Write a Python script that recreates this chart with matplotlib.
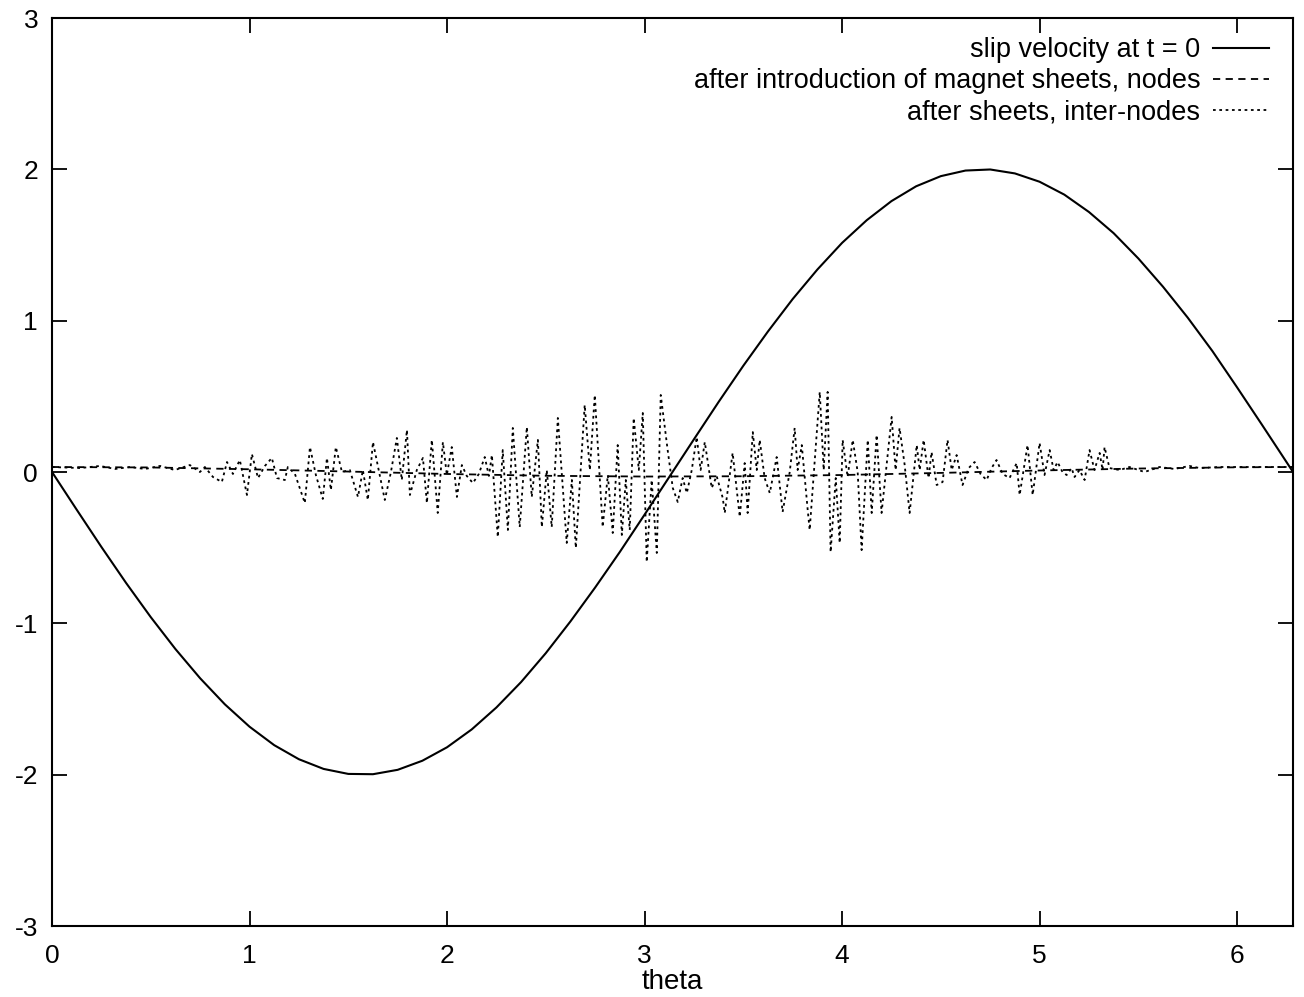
import matplotlib
matplotlib.use("Agg")
import matplotlib.pyplot as plt

plt.rcParams["font.family"] = ["Liberation Sans", "DejaVu Sans"]

# slip velocity at t = 0
theta_slip = [0.0, 0.125, 0.25, 0.375, 0.5, 0.625, 0.75, 0.875, 1.0, 1.125, 1.25, 1.375,
              1.5, 1.625, 1.75, 1.875, 2.0, 2.125, 2.25, 2.375, 2.5, 2.625, 2.75, 2.875,
              3.0, 3.125, 3.25, 3.375, 3.5, 3.625, 3.75, 3.875, 4.0, 4.125, 4.25, 4.375,
              4.5, 4.625, 4.75, 4.875, 5.0, 5.125, 5.25, 5.375, 5.5, 5.625, 5.75, 5.875,
              6.0, 6.125, 6.25, 6.283]
slip = [0.0, -0.249, -0.495, -0.733, -0.959, -1.170, -1.363, -1.535, -1.683, -1.805,
        -1.898, -1.962, -1.995, -1.997, -1.968, -1.908, -1.819, -1.701, -1.556, -1.388,
        -1.197, -0.987, -0.763, -0.528, -0.282, -0.033, 0.216, 0.463, 0.702, 0.929,
        1.143, 1.338, 1.514, 1.664, 1.790, 1.888, 1.955, 1.992, 1.999, 1.973, 1.918,
        1.833, 1.718, 1.578, 1.411, 1.224, 1.020, 0.799, 0.559, 0.314, 0.066, 0.0]

# after introduction of magnet sheets, nodes
theta_nodes = [0.0, 0.5, 1.0, 1.5, 2.0, 2.5, 3.0, 3.5, 4.0, 4.5, 5.0, 5.5, 6.0, 6.283]
nodes = [0.033, 0.030, 0.018, 0.003, -0.013, -0.025, -0.030, -0.028, -0.020, -0.006,
         0.010, 0.023, 0.031, 0.033]

# after sheets, inter-nodes
theta_inter = [0.000, 0.142, 0.243, 0.319, 0.395, 0.471, 0.547, 0.622, 0.698, 0.749,
               0.774, 0.815, 0.860, 0.886, 0.916, 0.951, 0.987, 1.012, 1.043, 1.078,
               1.113, 1.139, 1.179, 1.194, 1.230, 1.280, 1.306, 1.336, 1.371, 1.392,
               1.412, 1.437, 1.468, 1.508, 1.549, 1.574, 1.599, 1.625, 1.685, 1.716,
               1.746, 1.771, 1.797, 1.812, 1.847, 1.878, 1.898, 1.923, 1.953, 1.979,
               1.999, 2.024, 2.050, 2.075, 2.100, 2.131, 2.161, 2.191, 2.212, 2.227,
               2.257, 2.282, 2.308, 2.333, 2.368, 2.404, 2.429, 2.460, 2.480, 2.505,
               2.530, 2.561, 2.606, 2.632, 2.652, 2.697, 2.723, 2.748, 2.788, 2.814,
               2.839, 2.864, 2.885, 2.905, 2.925, 2.945, 2.971, 2.991, 3.011, 3.036,
               3.062, 3.082, 3.117, 3.143, 3.168, 3.193, 3.214, 3.239, 3.264, 3.284,
               3.305, 3.340, 3.365, 3.396, 3.406, 3.446, 3.482, 3.507, 3.522, 3.548,
               3.568, 3.583, 3.608, 3.634, 3.669, 3.699, 3.735, 3.760, 3.775, 3.796,
               3.826, 3.836, 3.887, 3.907, 3.927, 3.942, 3.968, 3.988, 4.003, 4.028,
               4.054, 4.079, 4.099, 4.130, 4.150, 4.175, 4.200, 4.251, 4.271, 4.291,
               4.317, 4.342, 4.378, 4.393, 4.413, 4.438, 4.453, 4.479, 4.509, 4.534,
               4.555, 4.580, 4.610, 4.641, 4.671, 4.701, 4.732, 4.757, 4.782, 4.813,
               4.848, 4.884, 4.899, 4.919, 4.939, 4.965, 5.000, 5.025, 5.051, 5.071,
               5.091, 5.116, 5.137, 5.162, 5.177, 5.202, 5.228, 5.253, 5.278, 5.304,
               5.319, 5.329, 5.354, 5.405, 5.455, 5.531, 5.607, 5.683, 5.759, 5.810,
               5.911, 6.063, 6.283]
inter = [0.033, 0.026, 0.040, 0.020, 0.033, 0.020, 0.040, 0.013, 0.046, 0.000,
         0.033, -0.033, -0.066, 0.066, -0.013, 0.079, -0.152, 0.119, -0.040, 0.040,
         0.093, -0.040, -0.053, 0.033, -0.013, -0.205, 0.165, -0.020, -0.178, 0.093,
         -0.119, 0.165, 0.000, 0.013, -0.165, 0.013, -0.185, 0.198, -0.185, 0.000,
         0.225, -0.053, 0.278, -0.152, 0.013, 0.093, -0.205, 0.212, -0.271, 0.198,
         -0.020, 0.165, -0.165, 0.046, -0.026, -0.073, -0.013, 0.099, -0.026, 0.112,
         -0.430, 0.145, -0.383, 0.291, -0.364, 0.297, -0.165, 0.212, -0.364, 0.013,
         -0.364, 0.357, -0.469, -0.053, -0.502, 0.443, 0.013, 0.509, -0.364, -0.020,
         -0.403, 0.178, -0.416, -0.053, -0.383, 0.357, 0.013, 0.390, -0.595, -0.053,
         -0.535, 0.509, 0.145, -0.106, -0.198, -0.040, -0.139, 0.013, 0.231, 0.013,
         0.198, -0.106, -0.026, -0.172, -0.271, 0.126, -0.297, 0.059, -0.271, 0.264,
         0.013, 0.212, -0.040, -0.139, 0.099, -0.264, 0.000, 0.291, 0.013, 0.178,
         -0.251, -0.383, 0.529, 0.013, 0.529, -0.529, -0.040, -0.469, 0.212, -0.033,
         0.212, 0.000, -0.516, 0.212, -0.271, 0.245, -0.271, 0.364, 0.013, 0.291,
         0.046, -0.271, 0.178, 0.013, 0.212, -0.040, 0.132, -0.086, -0.066, 0.212,
         0.013, 0.112, -0.086, 0.026, 0.066, -0.013, -0.053, 0.026, 0.079, -0.013,
         -0.040, 0.059, -0.152, 0.013, 0.178, -0.152, 0.192, -0.020, 0.145, 0.013,
         0.066, 0.000, -0.020, 0.026, -0.033, 0.013, -0.053, 0.145, 0.013, 0.126,
         0.013, 0.165, 0.026, 0.013, 0.033, 0.000, 0.033, 0.020, 0.040, 0.026,
         0.033, 0.033, 0.033]

fig = plt.figure(figsize=(13.04, 9.97), dpi=100)
ax = fig.add_axes([52 / 1304, 71 / 997, 1241 / 1304, 908 / 997])

ax.plot(theta_slip, slip, color="black", linewidth=1.5, label="slip velocity at t = 0")
ax.plot(theta_nodes, nodes, color="black", linewidth=1.3, dashes=(4, 3),
        label="after introduction of magnet sheets, nodes")
ax.plot(theta_inter, inter, color="black", linewidth=1.3, dashes=(1.5, 2),
        label="after sheets, inter-nodes")

ax.set_xlim(0, 6.283)
ax.set_ylim(-3, 3)
ax.set_xticks([0, 1, 2, 3, 4, 5, 6])
ax.set_yticks([-3, -2, -1, 0, 1, 2, 3])
ax.set_yticklabels(["-3", "-2", "-1", "0", "1", "2", "3"])
ax.tick_params(direction="in", length=11, width=1.3, top=True, right=True,
               labelsize=19)
ax.tick_params(axis="x", pad=13)
ax.tick_params(axis="y", pad=10)
for s in ax.spines.values():
    s.set_linewidth(1.5)
ax.set_xlabel("theta", fontsize=20, labelpad=1)

ax.legend(loc="upper right", bbox_to_anchor=(0.981, 0.979), frameon=False,
          markerfirst=False, fontsize=19.5, handlelength=2.1, handletextpad=0.45,
          labelspacing=0.2, borderaxespad=0, borderpad=0)

fig.savefig("out.png", dpi=100)
